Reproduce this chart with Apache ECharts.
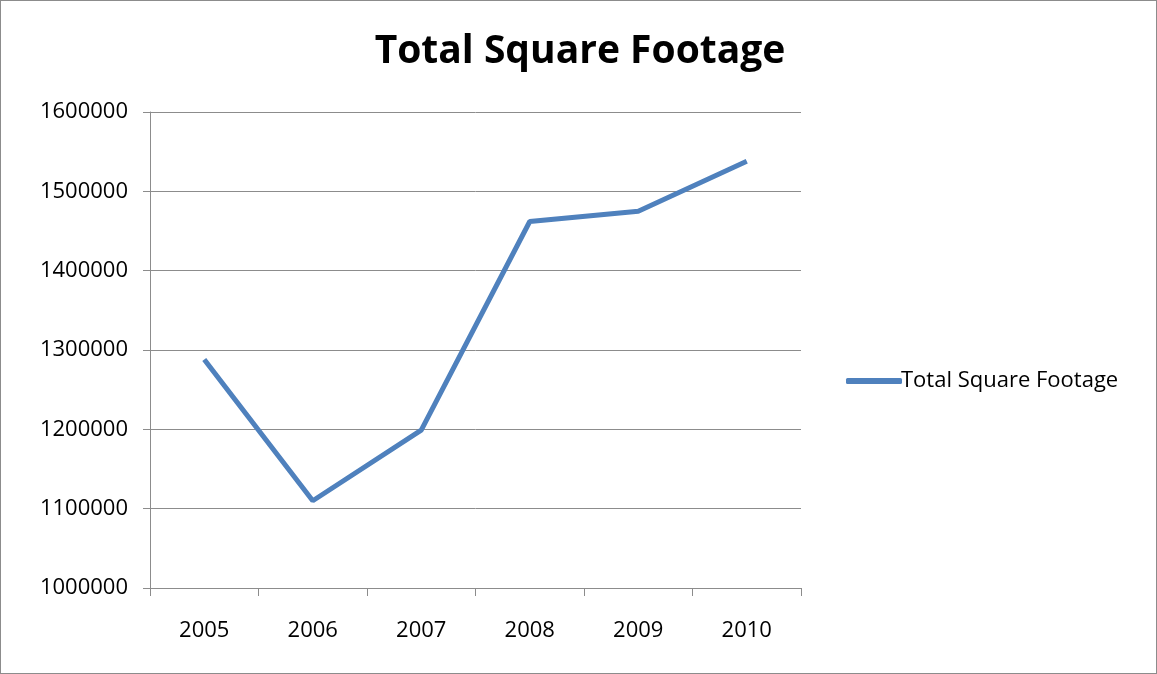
<!DOCTYPE html>
<html>
<head>
<meta charset="utf-8">
<script src="https://cdn.jsdelivr.net/npm/echarts@6/dist/echarts.min.js"></script>
<style>
  html, body { margin: 0; padding: 0; background: #fff; }
  #chart { width: 1155px; height: 672px; border: 1px solid #8c8c8c; }
</style>
</head>
<body>
<div id="chart"></div>
<script>
const years = ['2005', '2006', '2007', '2008', '2009', '2010'];
const footage = [1288000, 1110000, 1199000, 1462000, 1475000, 1538000];
const seriesName = 'Total Square Footage';

const font = '"Open Sans", "Liberation Sans", sans-serif';
const chart = echarts.init(document.getElementById('chart'));

chart.setOption({
  animation: false,
  title: {
    text: 'Total Square Footage',
    left: 574,
    textAlign: 'center',
    top: 26,
    textStyle: { fontFamily: font, fontSize: 39, fontWeight: 'bold', color: '#000' }
  },
  legend: {
    data: [seriesName],
    orient: 'vertical',
    left: 840,
    top: 364,
    itemWidth: 56,
    itemHeight: 6,
    itemGap: 0,
    icon: 'roundRect',
    textStyle: { fontFamily: font, fontSize: 22, color: '#000', padding: [0, 0, 0, -6] }
  },
  grid: { left: 149, top: 111, width: 651, height: 476, containLabel: false },
  xAxis: {
    type: 'category',
    data: years,
    boundaryGap: true,
    axisLine: { lineStyle: { color: '#8c8c8c', width: 1 } },
    axisTick: { show: true, length: 8, inside: false, lineStyle: { color: '#8c8c8c' } },
    axisLabel: { fontFamily: font, fontSize: 22, color: '#000', margin: 32 }
  },
  yAxis: {
    type: 'value',
    min: 1000000,
    max: 1600000,
    interval: 100000,
    axisLine: { show: true, lineStyle: { color: '#8c8c8c', width: 1 } },
    axisTick: { show: true, length: 7, lineStyle: { color: '#8c8c8c' } },
    axisLabel: { fontFamily: font, fontSize: 22, color: '#000', margin: 22, formatter: v => String(v) },
    splitLine: { lineStyle: { color: '#8c8c8c', width: 1 } }
  },
  series: [{
    name: seriesName,
    type: 'line',
    data: footage,
    symbol: 'none',
    lineStyle: { color: '#4f81bd', width: 5 },
    itemStyle: { color: '#4f81bd' }
  }]
});
</script>
</body>
</html>
